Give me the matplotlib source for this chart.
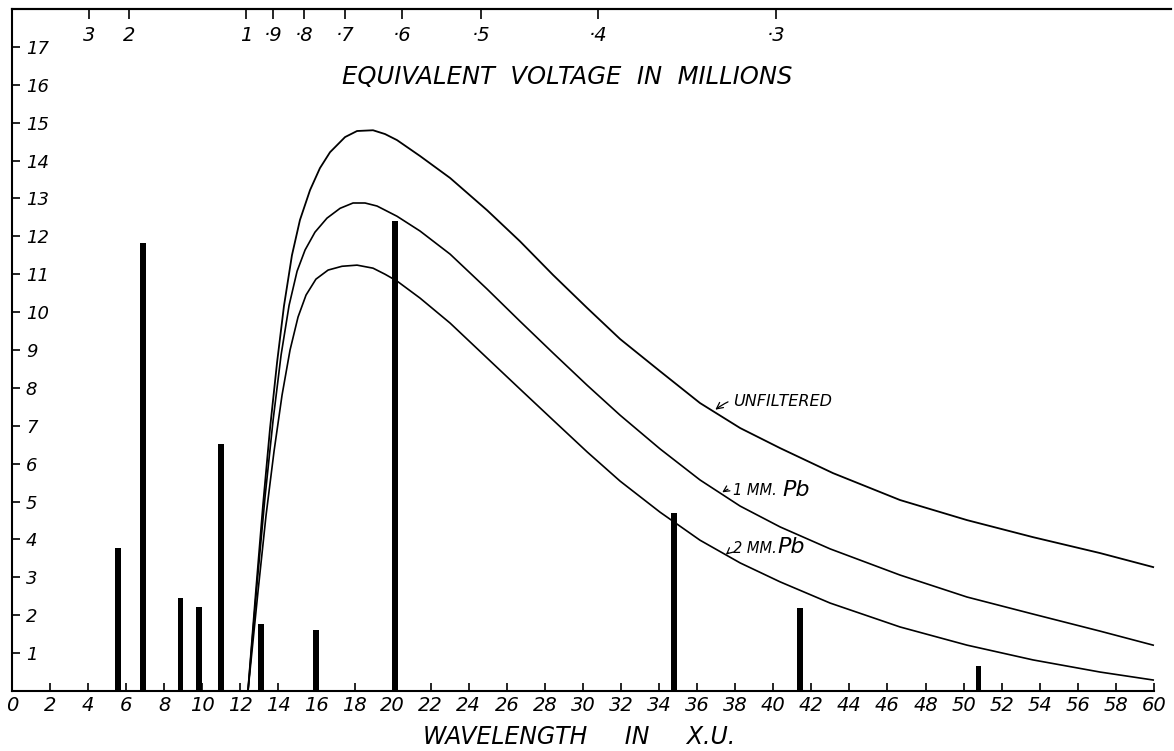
import numpy as np
import matplotlib
matplotlib.use('Agg')
import matplotlib.pyplot as plt

plt.rcParams['font.family'] = ['DejaVu Sans']
plt.rcParams['font.style'] = 'italic'

# line spectrum (wavelength in X.U., intensity)
line_x = [5.57, 6.9, 8.86, 9.84, 10.97, 13.08, 15.96, 20.13, 34.8, 41.4, 50.78]
line_h = [3.77, 11.82, 2.46, 2.22, 6.52, 1.77, 1.61, 12.41, 4.70, 2.19, 0.67]

# continuous spectra
unf_x = [12.40, 12.82, 13.19, 13.56, 13.93, 14.29, 14.71, 15.13, 15.66, 16.18, 16.71,
         17.50, 18.13, 18.97, 19.60, 20.23, 21.44, 23.02, 24.96, 26.69, 28.43, 30.22,
         31.95, 34.05, 36.15, 38.26, 40.36, 43.14, 46.66, 50.18, 53.65, 57.17, 59.96]
unf_y = [0, 2.66, 4.91, 6.94, 8.68, 10.16, 11.50, 12.43, 13.22, 13.80, 14.22,
         14.62, 14.78, 14.80, 14.70, 14.54, 14.12, 13.54, 12.69, 11.87, 10.98, 10.11,
         9.29, 8.44, 7.60, 6.94, 6.41, 5.75, 5.04, 4.51, 4.06, 3.64, 3.27]

pb1_x = [12.40, 12.87, 13.29, 13.72, 14.14, 14.56, 14.98, 15.40, 15.92, 16.55, 17.24,
         17.92, 18.55, 19.18, 20.23, 21.44, 23.02, 24.96, 26.69, 28.43, 30.22, 31.95,
         34.05, 36.15, 38.26, 40.36, 42.99, 46.66, 50.18, 53.65, 57.17, 59.96]
pb1_y = [0, 2.80, 5.09, 7.15, 8.87, 10.18, 11.08, 11.64, 12.11, 12.48, 12.74,
         12.88, 12.88, 12.80, 12.53, 12.14, 11.53, 10.61, 9.76, 8.92, 8.07, 7.28,
         6.39, 5.57, 4.88, 4.33, 3.75, 3.06, 2.48, 2.03, 1.58, 1.21]

pb2_x = [12.40, 12.93, 13.35, 13.77, 14.19, 14.61, 15.03, 15.45, 15.97, 16.61, 17.34,
         18.13, 18.97, 19.60, 20.23, 21.44, 23.02, 24.96, 26.69, 28.43, 30.22, 31.95,
         34.05, 36.15, 38.26, 40.36, 42.99, 46.66, 50.18, 53.65, 57.17, 59.96]
pb2_y = [0, 2.64, 4.64, 6.33, 7.81, 9.00, 9.87, 10.45, 10.87, 11.11, 11.21,
         11.24, 11.16, 11.00, 10.82, 10.37, 9.71, 8.79, 7.97, 7.15, 6.31, 5.54,
         4.72, 3.98, 3.38, 2.88, 2.32, 1.69, 1.21, 0.82, 0.50, 0.29]

# equivalent voltage scale (top)
volt_pos = [4.05, 6.15, 12.3, 13.7, 15.34, 17.5, 20.5, 24.65, 30.8, 40.15]
volt_lab = ['3', '2', '1', '·9', '·8', '·7', '·6', '·5', '·4', '·3']

fig = plt.figure(figsize=(11.74, 7.51), dpi=100)
ax = fig.add_axes([0.0102, 0.0799, 0.9873, 0.9081])

ax.bar(line_x, line_h, width=0.3, color='black')
ax.plot(unf_x, unf_y, color='black', lw=1.3)
ax.plot(pb1_x, pb1_y, color='black', lw=1.2)
ax.plot(pb2_x, pb2_y, color='black', lw=1.2)

ax.set_xlim(0, 60.9)
ax.set_ylim(0, 18)
ax.spines['right'].set_visible(False)
ax.spines['bottom'].set_bounds(0, 60)
for s in ['left', 'bottom', 'top']:
    ax.spines[s].set_linewidth(1.5)

ax.set_xticks(np.arange(0, 61, 2))
ax.set_yticks(np.arange(1, 18))
ax.tick_params(axis='x', direction='in', length=6, width=1.2, labelsize=14, top=False)
ax.tick_params(axis='y', direction='in', length=6, width=1.2, labelsize=13, right=False, pad=-10)
for lab in ax.get_yticklabels():
    lab.set_horizontalalignment('left')

sec = ax.secondary_xaxis('top')
sec.set_xticks(volt_pos, labels=volt_lab)
sec.tick_params(direction='in', length=7, width=1.2, labelsize=14, pad=-26)
sec.spines['top'].set_linewidth(1.5)

ax.text(0.479, 0.9, 'EQUIVALENT  VOLTAGE  IN  MILLIONS', transform=ax.transAxes,
        ha='center', va='center', fontsize=17.5)
ax.set_xlabel('WAVELENGTH     IN     X.U.', fontsize=17, va='top')
ax.xaxis.set_label_coords(0.489, -0.05)

arrow = dict(arrowstyle='->', lw=0.9, color='black', connectionstyle='arc3,rad=0.3')
ax.annotate('UNFILTERED', xy=(36.84, 7.38), xytext=(37.9, 7.63), fontsize=11.5,
            va='center', arrowprops=arrow)
ax.annotate('1 MM.', xy=(37.2, 5.2), xytext=(37.9, 5.3), fontsize=10.5,
            va='center', arrowprops=arrow)
ax.text(40.5, 5.3, 'Pb', fontsize=16, va='center')
ax.annotate('2 MM.', xy=(37.4, 3.55), xytext=(37.9, 3.75), fontsize=10.5,
            va='center', arrowprops=arrow)
ax.text(40.2, 3.8, 'Pb', fontsize=16, va='center')

fig.savefig('out.png', dpi=100)
